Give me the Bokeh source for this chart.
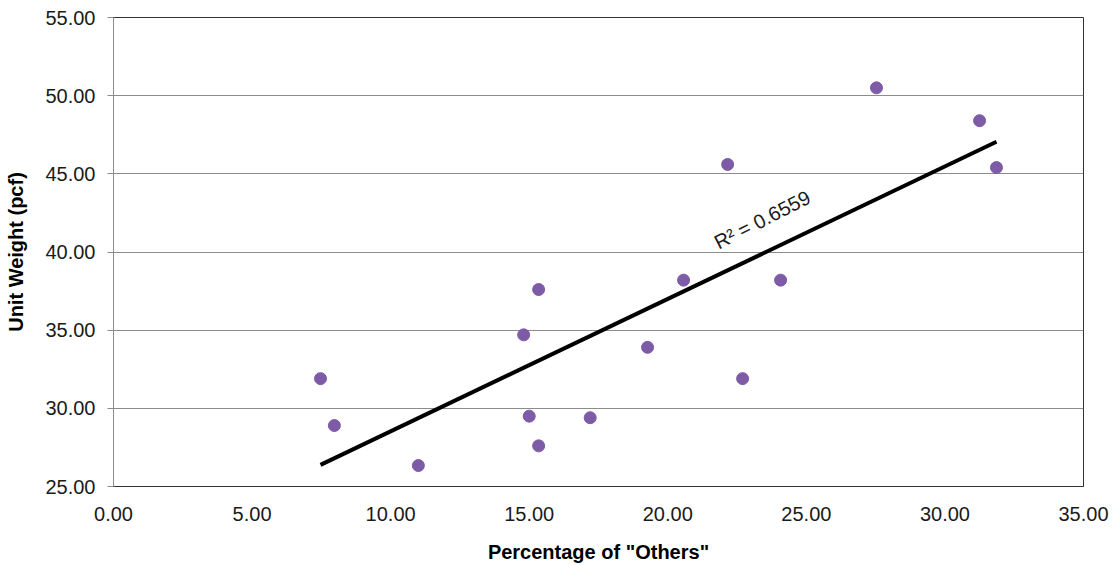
import numpy as np
from bokeh.plotting import figure
from bokeh.models import FixedTicker, PrintfTickFormatter, Range1d
from bokeh.core.properties import value
from bokeh.embed import file_html
from bokeh.resources import INLINE

# Data
others_pct = [7.47, 7.97, 11.0, 14.8, 15.0, 15.34, 15.34, 17.2, 19.27, 20.57,
              22.16, 22.7, 24.07, 27.53, 31.25, 31.86]
unit_weight = [31.9, 28.9, 26.34, 34.7, 29.5, 37.6, 27.6, 29.4, 33.9, 38.2,
               45.6, 31.9, 38.2, 50.5, 48.4, 45.4]
x_ticks = [0, 5, 10, 15, 20, 25, 30, 35]
y_ticks = [25, 30, 35, 40, 45, 50, 55]
r2_label = "R² = 0.6559"

FONT = "Liberation Sans"

p = figure(width=1116, height=565, output_backend="svg", toolbar_location=None,
           x_range=Range1d(0, 35), y_range=Range1d(25, 55),
           min_border_left=113, min_border_right=33, min_border_top=17,
           min_border_bottom=79)
p.background_fill_color = "white"
p.border_fill_color = "white"
p.outline_line_color = "#333333"
p.outline_line_width = 1

# axes
p.xaxis.ticker = FixedTicker(ticks=x_ticks)
p.yaxis.ticker = FixedTicker(ticks=y_ticks)
p.xaxis.formatter = PrintfTickFormatter(format="%.2f")
p.yaxis.formatter = PrintfTickFormatter(format="%.2f")
p.xaxis.minor_tick_line_color = None
p.yaxis.minor_tick_line_color = None
p.xaxis.major_tick_out = 0
p.xaxis.major_tick_in = 0
p.yaxis.major_tick_out = 6
p.yaxis.major_tick_in = 0
p.yaxis.major_tick_line_color = "#8c8c8c"
p.xaxis.axis_line_color = "#333333"
p.yaxis.axis_line_color = "#8c8c8c"
for ax in (p.xaxis, p.yaxis):
    ax.major_label_text_font = FONT
    ax.major_label_text_font_size = "20px"
    ax.major_label_text_color = "#1a1a1a"
    ax.axis_label_text_font = FONT
    ax.axis_label_text_font_size = "20px"
    ax.axis_label_text_font_style = "bold"
    ax.axis_label_text_color = "black"
p.xaxis.major_label_standoff = 20
p.yaxis.major_label_standoff = 12
p.xaxis.axis_label = 'Percentage of "Others"'
p.yaxis.axis_label = "Unit Weight (pcf)"
p.xaxis.axis_label_standoff = 17
p.yaxis.axis_label_standoff = 15

p.xgrid.grid_line_color = None
p.ygrid.grid_line_color = "#8c8c8c"
p.ygrid.grid_line_width = 1

# trend line (least squares fit over the data)
xs = np.array(others_pct)
ys = np.array(unit_weight)
slope, intercept = np.polyfit(xs, ys, 1)
tx = [xs.min(), xs.max()]
ty = [slope * tx[0] + intercept, slope * tx[1] + intercept]
p.line(tx, ty, line_color="black", line_width=4)

# points
p.scatter(others_pct, unit_weight, size=12, fill_color="#7d5ba6",
          line_color="#7d5ba6")

# R² label
p.text(x=[21.72], y=[40.54], text=[r2_label], angle=np.deg2rad(27),
       text_font=value(FONT), text_font_size="20px", text_color="#1a1a1a",
       text_align="left", text_baseline="alphabetic")

open("out.html", "w").write(file_html(p, INLINE))
